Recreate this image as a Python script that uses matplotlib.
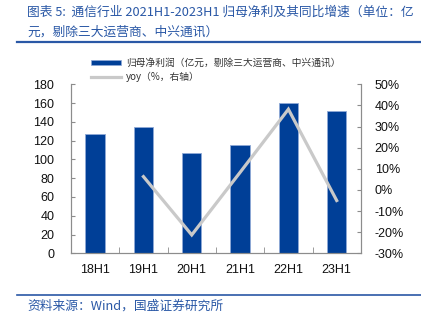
import matplotlib
matplotlib.use("Agg")
import matplotlib.pyplot as plt
from matplotlib.lines import Line2D
from matplotlib.patches import Patch
from matplotlib.ticker import FuncFormatter

plt.rcParams['font.family'] = ['Noto Sans CJK SC', 'DejaVu Sans']

# ===== DATA =====
periods = ["18H1", "19H1", "20H1", "21H1", "22H1", "23H1"]
profit = [127, 135, 106.5, 115.5, 159.7, 151.5]          # 亿元
yoy = [None, 6.3, -21.3, 8.3, 38.2, -5.0]               # %

# ===== STYLE =====
BLUE = "#003F97"
EDGE = "#8FA9D6"
GREY = "#C9C9C9"
TITLE_BLUE = "#2A58A6"
SPINE = "#8C8C8C"
NUM_FONT = "Liberation Sans"

fig = plt.figure(figsize=(4.21, 3.26), dpi=100)
ax = fig.add_axes([0.1686, 0.223, 0.6885, 0.5184])
ax2 = ax.twinx()

x = list(range(len(periods)))
ax.bar(x, profit, width=0.40, color=BLUE, edgecolor=EDGE, linewidth=0.6, zorder=2)

yx = [i for i, v in zip(x, yoy) if v is not None]
yv = [v for v in yoy if v is not None]
ax2.plot(yx, yv, color=GREY, linewidth=2.3, solid_joinstyle='miter', zorder=3)

ax.set_xlim(-0.5, len(periods) - 0.5)
ax.set_ylim(0, 180)
ax.set_yticks(range(0, 181, 20))
ax2.set_ylim(-30, 50)
ax2.set_yticks(range(-30, 51, 10))
ax2.yaxis.set_major_formatter(FuncFormatter(lambda v, p: f"{v:.0f}%"))

ax.set_xticks(x)
ax.set_xticklabels(periods)
ax.set_xticks([i + 0.5 for i in range(-1, len(periods))], minor=True)
ax.tick_params(axis='x', which='major', length=0, pad=8)
ax.tick_params(axis='x', which='minor', direction='in', length=4, color=SPINE)
ax.tick_params(axis='y', direction='in', length=3, color=SPINE, pad=12)
ax2.tick_params(axis='y', direction='in', length=3, color=SPINE, pad=10)

for a in (ax, ax2):
    a.spines['top'].set_visible(False)
    for s in ('left', 'right', 'bottom'):
        a.spines[s].set_color(SPINE)
        a.spines[s].set_linewidth(0.8)
    for lab in a.get_xticklabels() + a.get_yticklabels():
        lab.set_fontfamily(NUM_FONT)
        lab.set_fontsize(9)
        lab.set_color("#111111")

ax.set_zorder(ax2.get_zorder() - 1)
ax.patch.set_visible(False)
ax2.patch.set_visible(False)

# ===== LEGEND =====
handles = [Patch(facecolor=BLUE, edgecolor=EDGE, linewidth=0.5),
           Line2D([0], [0], color=GREY, linewidth=2.3)]
labels = ["归母净利润（亿元，剔除三大运营商、中兴通讯）", "yoy（%，右轴）"]
leg = fig.legend(handles, labels, loc='upper left', bbox_to_anchor=(0.205, 0.838),
                 frameon=False, fontsize=7, handlelength=3.1, handleheight=0.45,
                 handletextpad=0.5, labelspacing=0.45, borderpad=0)
for t in leg.get_texts():
    t.set_color("#333333")

# ===== TITLE / SOURCE =====
fig.text(0.064, 0.962, "图表 5:  通信行业 2021H1-2023H1 归母净利及其同比增速（单位：亿",
         fontsize=9.2, color=TITLE_BLUE, va='center', ha='left')
fig.text(0.064, 0.900, "元，剔除三大运营商、中兴通讯）",
         fontsize=9.2, color=TITLE_BLUE, va='center', ha='left')
fig.add_artist(Line2D([0.040, 1.0], [0.870, 0.870], color=TITLE_BLUE, linewidth=1.6))
fig.add_artist(Line2D([0.040, 1.0], [0.094, 0.094], color=TITLE_BLUE, linewidth=1.2))
fig.text(0.064, 0.060, "资料来源：Wind，国盛证券研究所",
         fontsize=9.2, color=TITLE_BLUE, va='center', ha='left')

fig.savefig("out.png", dpi=100)
